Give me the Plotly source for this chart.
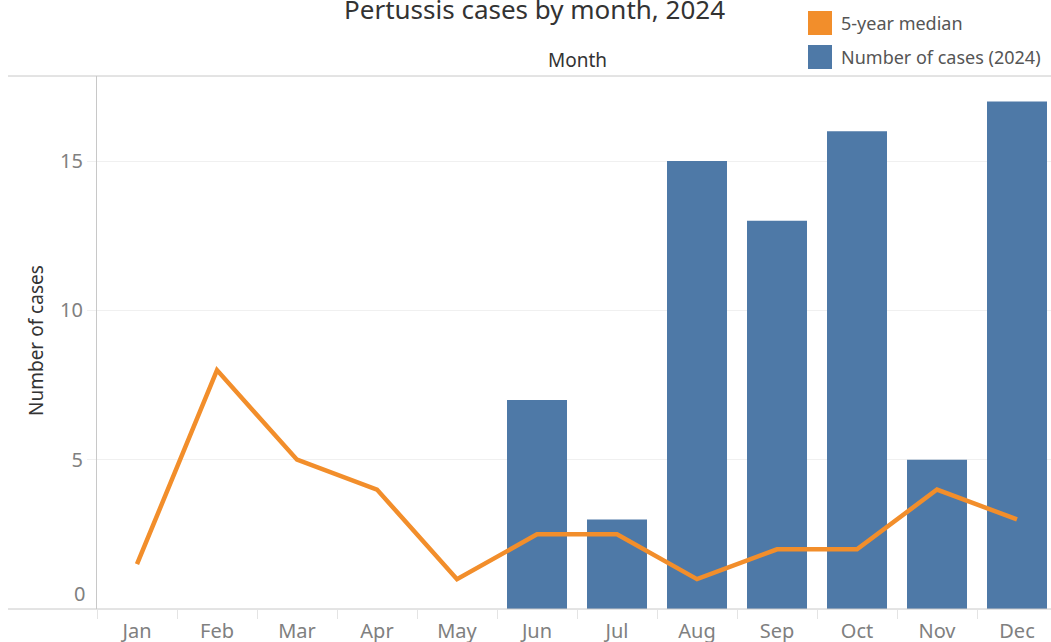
"""Pertussis cases by month, 2024 — bars with 5-year median line."""

import plotly.graph_objects as go

MONTHS = ["Jan", "Feb", "Mar", "Apr", "May", "Jun", "Jul", "Aug", "Sep", "Oct", "Nov", "Dec"]
CASES_2024 = [None, None, None, None, None, 7, 3, 15, 13, 16, 5, 17]
MEDIAN_5YR = [1.5, 8, 5, 4, 1, 2.5, 2.5, 1, 2, 2, 4, 3]
Y_TICKS = [5, 10, 15]

BLUE = "#4e79a7"
ORANGE = "#f28e2b"
FONT = "Noto Sans"

# plot box in page pixels: left 97, top 76, 954 x 533


def px_x(px):
    return (px - 97) / 954


def px_y(py):
    return (609 - py) / 533


fig = go.Figure()
fig.add_trace(go.Bar(
    x=MONTHS, y=CASES_2024, name="Number of cases (2024)",
    marker=dict(color=BLUE, line=dict(width=0)), width=0.75,
    hovertemplate="%{x}: %{y}<extra></extra>",
))
fig.add_trace(go.Scatter(
    x=MONTHS, y=MEDIAN_5YR, name="5-year median", mode="lines",
    line=dict(color=ORANGE, width=4.5),
    hovertemplate="%{x}: %{y}<extra></extra>",
))

shapes = [
    dict(type="line", xref="paper", yref="paper", x0=px_x(8), x1=1, y0=1, y1=1,
         line=dict(color="#c8c8c8", width=1)),
    dict(type="line", xref="paper", yref="paper", x0=px_x(8), x1=1, y0=0, y1=0,
         line=dict(color="#c8c8c8", width=1)),
]
annotations = [
    dict(text="Pertussis cases by month, 2024", xref="paper", yref="paper",
         x=px_x(534), y=px_y(9), showarrow=False, xanchor="center", yanchor="middle",
         font=dict(size=26, color="#333333", family=FONT)),
    dict(text="Month", xref="paper", yref="paper", x=px_x(577), y=px_y(60),
         showarrow=False, xanchor="center", yanchor="middle",
         font=dict(size=19, color="#333333", family=FONT)),
    dict(text="Number of cases", xref="paper", yref="paper", x=px_x(36), y=px_y(340),
         showarrow=False, textangle=-90, xanchor="center", yanchor="middle",
         font=dict(size=19, color="#333333", family=FONT)),
    dict(text="0", xref="paper", yref="y", x=0, y=0, xanchor="right", yanchor="bottom",
         xshift=-10, yshift=0, showarrow=False,
         font=dict(size=20, color="#808080", family=FONT)),
]

# legend drawn by hand (Tableau-style squares)
legend_items = [("5-year median", ORANGE, 23), ("Number of cases (2024)", BLUE, 57)]
for label, color, cy in legend_items:
    shapes.append(dict(type="rect", xref="paper", yref="paper",
                       x0=px_x(808), x1=px_x(832), y0=px_y(cy - 12), y1=px_y(cy + 12),
                       fillcolor=color, line=dict(width=0)))
    annotations.append(dict(text=label, xref="paper", yref="paper", x=px_x(839), y=px_y(cy),
                            xanchor="left", yanchor="middle", showarrow=False,
                            font=dict(size=18, color="#555555", family=FONT)))

fig.update_layout(
    width=1051,
    height=642,
    margin=dict(l=97, r=0, t=76, b=33),
    plot_bgcolor="white",
    paper_bgcolor="white",
    showlegend=False,
    bargap=0.25,
    font=dict(family=FONT, color="#777777"),
    shapes=shapes,
    annotations=annotations,
)
fig.update_xaxes(
    range=[-0.5, 11.425],
    automargin=False,
    tickson="boundaries", ticks="outside", ticklen=9, tickcolor="#e4e4e4",
    ticklabelstandoff=8,
    showgrid=False, showline=False, zeroline=False,
    tickfont=dict(size=20, color="#808080"),
)
fig.update_yaxes(
    range=[0, 17.85],
    automargin=False,
    tickvals=Y_TICKS,
    ticks="outside", ticklen=9, tickcolor="#f0f0f0",
    ticklabelstandoff=0,
    showgrid=True, gridcolor="#f0f0f0", gridwidth=1,
    showline=True, linecolor="#c8c8c8", linewidth=1,
    zeroline=False,
    tickfont=dict(size=20, color="#808080"),
)

# drop the page's default 8px body margin so the figure fills the window
fig.write_html(
    "out.html",
    config={"displayModeBar": False},
    post_script="document.body.style.margin = '0';",
)
